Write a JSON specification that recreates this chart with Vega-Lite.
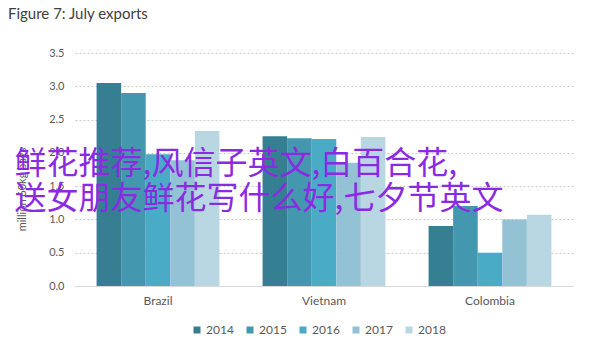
{
  "$schema": "https://vega.github.io/schema/vega-lite/v6.json",
  "autosize": {"type": "none"},
  "width": 498,
  "height": 233,
  "padding": {"left": 75, "top": 53, "right": 17, "bottom": 65},
  "background": "white",
  "title": {
    "text": "Figure 7: July exports",
    "anchor": "start",
    "frame": "group",
    "dx": -67,
    "offset": 13,
    "baseline": "alphabetic",
    "font": "Lato",
    "fontSize": 15,
    "fontWeight": "normal",
    "color": "#404040"
  },
  "datasets": {
    "bars": [
      {"country": "Brazil", "year": "2014", "value": 3.05},
      {"country": "Brazil", "year": "2015", "value": 2.9},
      {"country": "Brazil", "year": "2016", "value": 1.98},
      {"country": "Brazil", "year": "2017", "value": 1.89},
      {"country": "Brazil", "year": "2018", "value": 2.33},
      {"country": "Vietnam", "year": "2014", "value": 2.25},
      {"country": "Vietnam", "year": "2015", "value": 2.22},
      {"country": "Vietnam", "year": "2016", "value": 2.21},
      {"country": "Vietnam", "year": "2017", "value": 1.85},
      {"country": "Vietnam", "year": "2018", "value": 2.24},
      {"country": "Colombia", "year": "2014", "value": 0.9},
      {"country": "Colombia", "year": "2015", "value": 1.2},
      {"country": "Colombia", "year": "2016", "value": 0.5},
      {"country": "Colombia", "year": "2017", "value": 1.0},
      {"country": "Colombia", "year": "2018", "value": 1.07}
    ],
    "overlay": [
      {"label": ["鲜花推荐,风信子英文,白百合花,", "送女朋友鲜花写什么好,七夕节英文"], "country": "Brazil", "level": 2.06}
    ]
  },
  "resolve": {"axis": {"x": "independent", "y": "independent"}},
  "layer": [
    {
      "data": {"name": "bars"},
      "mark": {"type": "bar"},
      "encoding": {
        "x": {
          "field": "country",
          "type": "nominal",
          "sort": null,
          "scale": {"domain": ["Brazil", "Vietnam", "Colombia"], "paddingInner": 0.26, "paddingOuter": 0.13},
          "axis": {
            "title": null,
            "labelAngle": 0,
            "labelFont": "Lato",
            "labelFontSize": 12,
            "labelColor": "#595959",
            "labelPadding": 9,
            "ticks": false,
            "domainColor": "#d9d9d9",
            "domainWidth": 1
          }
        },
        "xOffset": {"field": "year", "type": "nominal", "scale": {"paddingInner": 0}},
        "y": {
          "field": "value",
          "type": "quantitative",
          "scale": {"domain": [0, 3.5], "nice": false},
          "axis": {
            "title": "million 60kg bags",
            "titleFont": "Lato",
            "titleFontSize": 11,
            "titleFontWeight": "normal",
            "titleColor": "#595959",
            "titleAngle": -90,
            "titleX": -53,
            "titleY": 136,
            "titleAlign": "center",
            "titleBaseline": "middle",
            "values": [0, 0.5, 1, 1.5, 2, 2.5, 3, 3.5],
            "format": ".1f",
            "labelOverlap": false,
            "labelFont": "Lato",
            "labelFontSize": 11,
            "labelColor": "#595959",
            "labelPadding": 11,
            "ticks": false,
            "domain": false,
            "gridColor": "#c8c8c8",
            "gridDash": [2, 2],
            "gridWidth": 1
          }
        },
        "color": {
          "field": "year",
          "type": "nominal",
          "scale": {
            "domain": ["2014", "2015", "2016", "2017", "2018"],
            "range": ["#367e92", "#4397af", "#4aabc6", "#93c2d4", "#b9d7e2"]
          },
          "legend": {
            "title": null,
            "orient": "none",
            "direction": "horizontal",
            "legendX": 116,
            "legendY": 271,
            "symbolType": "square",
            "symbolSize": 49,
            "symbolStrokeWidth": 0,
            "labelFont": "Lato",
            "labelFontSize": 12,
            "labelColor": "#595959",
            "labelOffset": 3,
            "columnPadding": 10
          }
        }
      }
    },
    {
      "data": {"name": "overlay"},
      "mark": {
        "type": "text",
        "align": "left",
        "baseline": "top",
        "font": "Noto Sans CJK SC",
        "fontSize": 32,
        "lineHeight": 35,
        "color": "#8a2be2",
        "dx": -82
      },
      "encoding": {
        "x": {"field": "country", "type": "nominal", "bandPosition": 0, "axis": null},
        "y": {"field": "level", "type": "quantitative", "axis": null},
        "text": {"field": "label"}
      }
    }
  ],
  "config": {"view": {"stroke": null}}
}
